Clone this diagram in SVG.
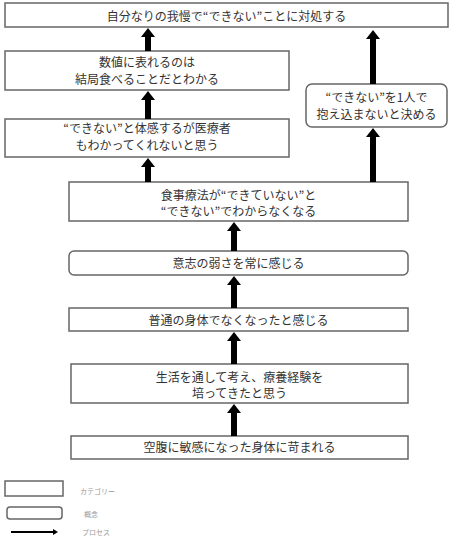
<svg xmlns="http://www.w3.org/2000/svg" width="454" height="538" viewBox="0 0 454 538">
<style>
.box{fill:#fff;stroke:#666;stroke-width:1.5}
.t{font-family:"Noto Sans CJK JP","Noto Sans",sans-serif;font-size:12px;fill:#333;text-anchor:middle}
.lg{font-family:"Noto Sans CJK JP","Noto Sans",sans-serif;font-size:7px;fill:#999}
.ar{stroke:#000;stroke-width:6;fill:none;marker-end:url(#head)}
</style>
<defs>
<marker id="head" markerUnits="userSpaceOnUse" markerWidth="10" markerHeight="14" refX="0" refY="7" orient="auto">
<path d="M0,0 L9,7 L0,14 z" fill="#000"/>
</marker>
<marker id="head2" markerUnits="userSpaceOnUse" markerWidth="5" markerHeight="6" refX="0" refY="3" orient="auto">
<path d="M0,0 L5,3 L0,6 z" fill="#000"/>
</marker>
</defs>
<g id="n1"><rect class="box" x="5" y="3" width="443" height="24"/><text class="t" x="226.5" y="21">自分なりの我慢で“できない”ことに対処する</text></g>
<g id="n2"><rect class="box" x="5" y="51" width="284" height="39"/><text class="t" x="147" y="67">数値に表れるのは</text><text class="t" x="147" y="84">結局食べることだとわかる</text></g>
<g id="n3"><rect class="box" x="5" y="119" width="284" height="38"/><text class="t" x="147" y="133">“できない”と体感するが医療者</text><text class="t" x="147" y="150">もわかってくれないと思う</text></g>
<g id="n4"><rect class="box" x="306" y="84" width="141" height="43" rx="6"/><text class="t" x="376.5" y="102">“できない”を1人で</text><text class="t" x="376.5" y="119">抱え込まないと決める</text></g>
<g id="n5"><rect class="box" x="69" y="182" width="339" height="39"/><text class="t" x="238.5" y="200">食事療法が“できていない”と</text><text class="t" x="238.5" y="216">“できない”でわからなくなる</text></g>
<g id="n6"><rect class="box" x="69" y="251" width="339" height="24" rx="5"/><text class="t" x="238.5" y="268">意志の弱さを常に感じる</text></g>
<g id="n7"><rect class="box" x="69" y="308" width="339" height="23"/><text class="t" x="238.5" y="325">普通の身体でなくなったと感じる</text></g>
<g id="n8"><rect class="box" x="71" y="364" width="337" height="39"/><text class="t" x="239.5" y="382">生活を通して考え、療養経験を</text><text class="t" x="239.5" y="398">培ってきたと思う</text></g>
<g id="n9"><rect class="box" x="71" y="436" width="337" height="23"/><text class="t" x="239.5" y="452">空腹に敏感になった身体に苛まれる</text></g>
<g id="connectors">
<line class="ar" x1="148" y1="51" x2="148" y2="37"/>
<line class="ar" x1="148" y1="119" x2="148" y2="100"/>
<line class="ar" x1="148" y1="182" x2="148" y2="167"/>
<line class="ar" x1="373" y1="182" x2="373" y2="137"/>
<line class="ar" x1="373" y1="84" x2="373" y2="39"/>
<line class="ar" x1="234" y1="251" x2="234" y2="231"/>
<line class="ar" x1="234" y1="308" x2="234" y2="285"/>
<line class="ar" x1="234" y1="364" x2="234" y2="341"/>
<line class="ar" x1="234" y1="436" x2="234" y2="413"/>
</g>
<g id="legend">
<rect class="box" x="5" y="481" width="58" height="15"/>
<text class="lg" x="80" y="494">カテゴリー</text>
<rect class="box" x="7" y="507" width="55" height="12" rx="3"/>
<text class="lg" x="84" y="517">概念</text>
<line x1="11" y1="532" x2="53" y2="532" stroke="#000" stroke-width="2" marker-end="url(#head2)"/>
<text class="lg" x="82" y="535">プロセス</text>
</g>
</svg>
